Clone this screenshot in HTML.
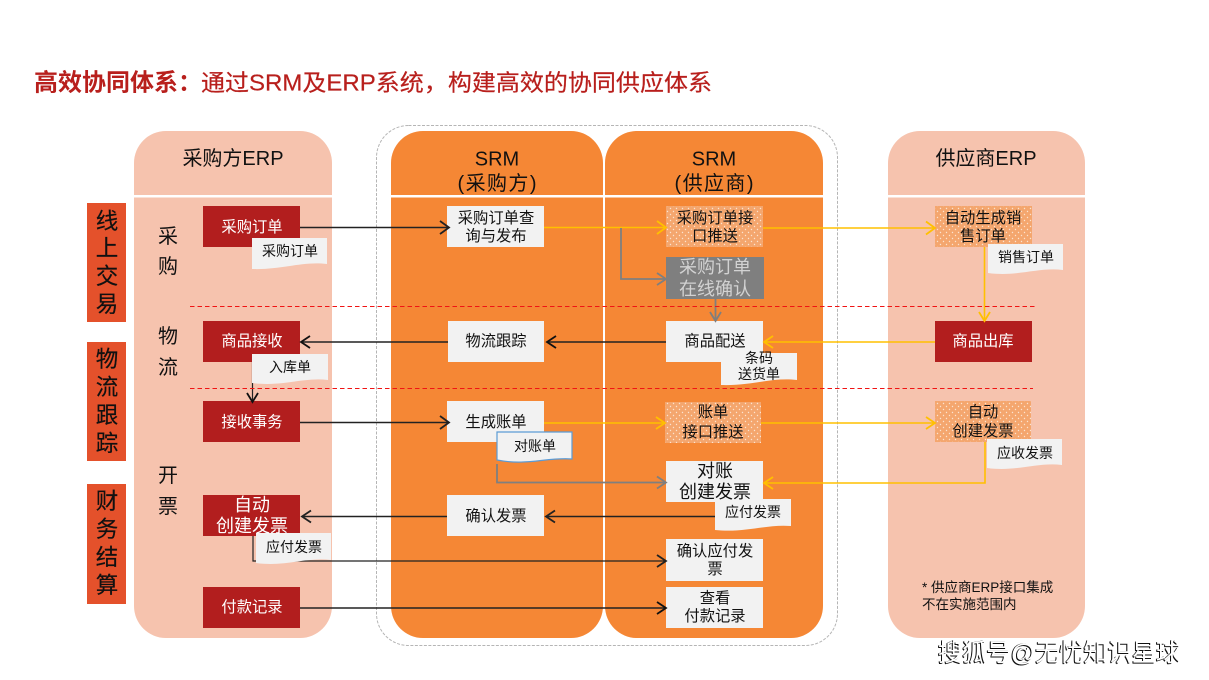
<!DOCTYPE html>
<html><head><meta charset="utf-8"><style>
html,body{margin:0;padding:0;background:#fff;width:1209px;height:680px;overflow:hidden;position:relative}
svg{display:block}
text{font-family:"Liberation Sans","Noto Sans CJK SC",sans-serif;text-anchor:middle;fill:#111}
.w{fill:#fff}
.s13{font-size:14px}.s14{font-size:15.300px}.s18{font-size:18px}.s20{font-size:20px}.s22{font-size:22.500px;stroke:#111;stroke-width:.2px}
.bk{stroke:#222;stroke-width:1.600;fill:none}
.gy{stroke:#7f7f7f;stroke-width:1.800;fill:none}
.yl{stroke:#ffc000;stroke-width:1.600;fill:none}
.hd{fill:none;stroke-width:1.800}
#wm{position:absolute;left:938px;top:640px;width:260px;font:24.200px/28px "Liberation Sans","Noto Sans CJK SC",sans-serif;color:#fff;white-space:nowrap;text-shadow:-1px 1px 0 #111,-1px 0 0 #333}
</style></head><body>
<svg width="1209" height="680" viewBox="0 0 1209 680" xmlns="http://www.w3.org/2000/svg">
<defs>
<pattern id="dot" width="6" height="6" patternUnits="userSpaceOnUse"><rect width="6" height="6" fill="#f4a66e"/><circle cx="1.500" cy="1.500" r=".7" fill="#fbe3d0"/><circle cx="4.500" cy="4.500" r=".7" fill="#fbe3d0"/></pattern>
</defs>
<rect width="1209" height="680" fill="#fff"/>
<text x="34" y="90.500" style="text-anchor:start;font-size:24px;font-weight:bold;fill:#b81f1c">高效协同体系：</text>
<text x="201" y="90.500" style="text-anchor:start;font-size:23px;fill:#b81f1c;stroke:#b81f1c;stroke-width:.2px" textLength="511" lengthAdjust="spacingAndGlyphs">通过SRM及ERP系统，构建高效的协同供应体系</text>

<rect x="376.500" y="125.500" width="461" height="520" rx="32" fill="none" stroke="#b5b5b5" stroke-dasharray="3 1.500"/>
<rect x="134" y="131" width="198" height="507" rx="32" fill="#f6c3ae"/>
<rect x="391" y="131" width="212" height="507" rx="32" fill="#f58735"/>
<rect x="605" y="131" width="218" height="507" rx="32" fill="#f58735"/>
<rect x="888" y="131" width="197" height="507" rx="32" fill="#f6c3ae"/>
<rect x="134" y="195" width="198" height="2.500" fill="#fff"/>
<rect x="391" y="195" width="432" height="2.500" fill="#fff"/>
<rect x="888" y="195" width="197" height="2.500" fill="#fff"/>

<text x="233" y="165" class="s20">采购方ERP</text>
<text x="497" y="165.500" class="s20">SRM</text><text x="497" y="190" class="s20" textLength="79">(采购方)</text>
<text x="714" y="165.500" class="s20">SRM</text><text x="714" y="190" class="s20" textLength="79">(供应商)</text>
<text x="986" y="165" class="s20">供应商ERP</text>

<rect x="87" y="203" width="39" height="119" fill="#e4512b"/>
<rect x="87" y="342" width="39" height="119" fill="#e4512b"/>
<rect x="87" y="484" width="39" height="120" fill="#e4512b"/>
<g>
<text class="s22" x="107" y="229">线</text><text class="s22" x="107" y="256">上</text><text class="s22" x="107" y="284">交</text><text class="s22" x="107" y="312">易</text>
<text class="s22" x="107" y="367">物</text><text class="s22" x="107" y="395">流</text><text class="s22" x="107" y="423">跟</text><text class="s22" x="107" y="451">踪</text>
<text class="s22" x="107" y="509">财</text><text class="s22" x="107" y="537">务</text><text class="s22" x="107" y="565">结</text><text class="s22" x="107" y="593">算</text>
</g>
<g class="s20">
<text x="168" y="243">采</text><text x="168" y="273">购</text>
<text x="168" y="343">物</text><text x="168" y="374">流</text>
<text x="168" y="482">开</text><text x="168" y="513">票</text>
</g>

<g fill="#b21e1e">
<rect x="203" y="206" width="97" height="41"/><rect x="203" y="321" width="97" height="41"/>
<rect x="203" y="401" width="97" height="41"/><rect x="203" y="495" width="97" height="41"/>
<rect x="203" y="587" width="97" height="41"/><rect x="935" y="321" width="97" height="41"/>
</g>
<g fill="#f2f2f2">
<rect x="447" y="206" width="97" height="41"/><rect x="448" y="321" width="96" height="41"/>
<rect x="447" y="401" width="97" height="41"/><rect x="447" y="495" width="97" height="41"/>
<rect x="666" y="321" width="97" height="41"/><rect x="666" y="461" width="97" height="41"/>
<rect x="666" y="539" width="97" height="42"/><rect x="666" y="587" width="97" height="41"/>
</g>
<g fill="url(#dot)">
<rect x="666" y="206" width="97" height="41"/><rect x="665" y="402" width="96" height="41"/>
<rect x="935" y="206" width="97" height="41"/><rect x="935" y="401" width="96" height="41"/>
</g>
<rect x="666" y="257" width="98" height="42" fill="#7f7f7f"/>

<path class="bk" d="M300 227.500H448"/><path class="hd" stroke="#222" d="M440 221l9 6.500-9 6.500"/>
<path class="yl" d="M544 227.500H665"/><path class="hd" stroke="#ffc000" d="M657 221l9 6.500-9 6.500"/>
<path class="yl" d="M763 228H934"/><path class="hd" stroke="#ffc000" d="M926 221.500l9 6.500-9 6.500"/>
<path class="gy" d="M621 228V279H665"/><path class="hd" stroke="#7f7f7f" d="M657 273l9 6-9 6"/>
<path class="gy" d="M715.500 299V320"/><path class="hd" stroke="#7f7f7f" d="M710 312l5.500 9 5.500-9"/>
<path class="bk" d="M666 342H548"/><path class="hd" stroke="#111" d="M556 336l-9 6 9 6"/>
<path class="bk" d="M448 342H302"/><path class="hd" stroke="#111" d="M310 336l-9 6 9 6"/>
<path class="yl" d="M935 342H765"/><path class="hd" stroke="#ffc000" d="M773 336l-9 6 9 6"/>
<path class="yl" d="M984.500 247V320"/><path class="hd" stroke="#ffc000" d="M979 312l5.500 9 5.500-9"/>
<path class="bk" d="M252.500 362V401" style="stroke-width:1.200"/><path class="hd" stroke="#111" d="M247 393l5.500 9 5.500-9"/>
<path class="bk" d="M300 422.500H448"/><path class="hd" stroke="#222" d="M440 416l9 6.500-9 6.500"/>
<path class="yl" d="M544 423H664"/><path class="hd" stroke="#ffc000" d="M656 417l9 6-9 6"/>
<path class="yl" d="M761 423H934"/><path class="hd" stroke="#ffc000" d="M926 417l9 6-9 6"/>
<path class="gy" d="M497 464V482.500H665"/><path class="hd" stroke="#7f7f7f" d="M657 476.500l9 6-9 6"/>
<path class="yl" d="M985 442V483H765"/><path class="hd" stroke="#ffc000" d="M773 477l-9 6 9 6"/>
<path class="bk" d="M716 516.500H547"/><path class="hd" stroke="#222" d="M555 510.500l-9 6 9 6"/>
<path class="bk" d="M447 516.500H303"/><path class="hd" stroke="#222" d="M311 510.500l-9 6 9 6"/>
<path class="bk" d="M253 536V561H666" style="stroke-width:1.200"/><path class="hd" stroke="#222" d="M657 555l9 6-9 6"/>
<path class="bk" d="M300 608H666"/><path class="hd" stroke="#111" d="M657 602l9 6-9 6"/>

<path d="M190 306.500H1035M190 388.500H1033" stroke="#f01414" stroke-width="1" stroke-dasharray="4.500 3" fill="none"/>

<g fill="#f2f2f2">
<path d="M252 238h75v26c-25-3-45 6-75 5z"/>
<path d="M252 354h76v26c-25-3-45 7-76 3z"/>
<path d="M256 533h75v27c-25-3-45 7-75 3z"/>
<path d="M721 353h76v27c-25-3-45 6-76 5z"/>
<path d="M497 432h75v27c-25-2-45 7-75 1z" stroke="#5b9bd5" stroke-width="1.200"/>
<path d="M715 499h76v27c-25-2-45 7-76 4z"/>
<path d="M988 244h75v26c-25-3-45 7-75 3z"/>
<path d="M987 439h75v26c-25-3-45 7-75 3z"/>
</g>

<g>
<text x="252" y="232" class="s14 w">采购订单</text><text x="252" y="346" class="s14 w">商品接收</text>
<text x="252" y="427" class="s14 w">接收事务</text><text x="252" y="612" class="s14 w">付款记录</text>
<text x="983" y="346" class="s14 w">商品出库</text>
<text x="290" y="256" class="s13">采购订单</text>
<text x="290" y="372" class="s13">入库单</text>
<text x="294" y="552" class="s13">应付发票</text>
<text x="535" y="451" class="s13">对账单</text>
<text x="753" y="517" class="s13">应付发票</text>
<text x="1026" y="262" class="s13">销售订单</text>
<text x="1025" y="458" class="s13">应收发票</text>
<text x="759" y="363" class="s13">条码</text><text x="759" y="379" class="s13">送货单</text>
<text class="s14" x="496" y="223">采购订单查</text><text class="s14" x="496" y="241">询与发布</text>
<text class="s14" x="496" y="346">物流跟踪</text><text class="s14" x="496" y="427">生成账单</text><text class="s14" x="496" y="521">确认发票</text>
<text class="s14" x="715" y="223">采购订单接</text><text class="s14" x="715" y="241">口推送</text>
<text class="s14" x="715" y="346">商品配送</text>
<text class="s14" x="713" y="417">账单</text><text class="s14" x="713" y="437">接口推送</text>
<text class="s14" x="715" y="556">确认应付发</text><text class="s14" x="715" y="574">票</text>
<text class="s14" x="715" y="603">查看</text><text class="s14" x="715" y="621">付款记录</text>
<text class="s14" x="983" y="223">自动生成销</text><text class="s14" x="983" y="241">售订单</text>
<text class="s14" x="983" y="417">自动</text><text class="s14" x="983" y="436">创建发票</text>
</g>
<text x="252" y="511" class="s18 w">自动</text><text x="252" y="532" class="s18 w">创建发票</text>
<text x="715" y="273" class="s18" style="fill:#d2d2d2">采购订单</text><text x="715" y="295" class="s18" style="fill:#d2d2d2">在线确认</text>
<text x="715" y="477" class="s18">对账</text><text x="715" y="498" class="s18">创建发票</text>
<text x="922" y="592" style="text-anchor:start;font-size:13.500px">* 供应商ERP接口集成</text>
<text x="922" y="609" style="text-anchor:start;font-size:13.500px">不在实施范围内</text>
</svg>
<div id="wm">搜狐号@无忧知识星球</div>
</body></html>
